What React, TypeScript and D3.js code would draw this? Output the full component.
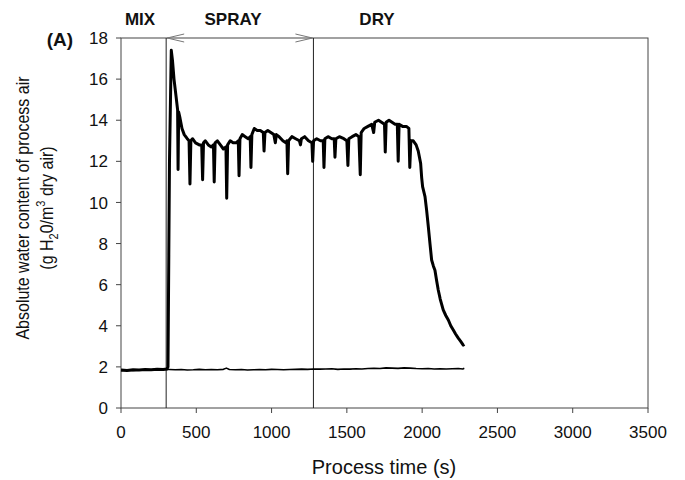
import React from "react";
import * as d3 from "d3";

const xTicks = [0, 500, 1000, 1500, 2000, 2500, 3000, 3500];
const yTicks = [0, 2, 4, 6, 8, 10, 12, 14, 16, 18];
const phaseLabels = ["MIX", "SPRAY", "DRY"];
const phaseLabelX = [140, 233, 377];
const phaseBoundaries = [300, 1278];

const lowerTime = [0,40,80,120,160,200,240,280,320,360,400,440,480,520,560,600,640,680,700,720,760,800,840,880,920,960,1000,1040,1080,1120,1160,1200,1240,1280,1320,1360,1400,1440,1480,1520,1560,1600,1640,1680,1720,1760,1800,1840,1880,1920,1960,2000,2040,2080,2120,2160,2200,2240,2270,2280];
const lowerValue = [1.82,1.84,1.83,1.85,1.84,1.86,1.85,1.87,1.87,1.86,1.87,1.85,1.86,1.88,1.86,1.87,1.86,1.88,1.94,1.87,1.86,1.87,1.85,1.86,1.87,1.86,1.88,1.87,1.86,1.87,1.88,1.89,1.88,1.9,1.89,1.9,1.91,1.88,1.9,1.89,1.91,1.9,1.92,1.93,1.92,1.95,1.94,1.93,1.95,1.94,1.92,1.91,1.92,1.9,1.91,1.9,1.91,1.92,1.9,1.93];

const upperSeries: [number, number][] = [
  [0,1.85],[40,1.83],[80,1.86],[120,1.85],[160,1.87],[200,1.86],[240,1.88],[280,1.87],[305,1.9],[312,2.0],[322,12.0],[334,17.4],[342,16.9],[352,16.0],[365,15.2],[376,14.5],[379,11.6],[383,14.4],[392,14.1],[405,13.6],[420,13.3],[440,13.1],[452,13.0],[458,10.9],[464,13.0],[475,13.1],[495,12.9],[520,12.8],[536,12.8],[542,11.1],[548,12.9],[560,13.0],[580,12.8],[600,12.7],[614,12.8],[619,11.0],[625,12.9],[640,13.0],[660,12.8],[680,12.6],[697,12.7],[702,10.2],[708,12.8],[725,13.0],[745,12.9],[765,12.9],[779,13.0],[784,11.3],[790,13.1],[805,13.3],[825,13.2],[845,13.1],[858,13.2],[863,11.7],[869,13.3],[885,13.6],[905,13.5],[925,13.5],[945,13.4],[950,12.5],[956,13.4],[975,13.5],[995,13.4],[1015,13.3],[1025,12.9],[1032,13.3],[1050,13.2],[1075,13.0],[1095,12.9],[1102,13.0],[1107,11.4],[1113,13.0],[1135,13.2],[1160,13.1],[1185,13.0],[1192,12.8],[1198,13.1],[1220,13.2],[1245,13.0],[1268,12.9],[1273,12.0],[1279,13.0],[1300,13.1],[1325,13.0],[1343,13.0],[1348,11.7],[1354,13.1],[1375,13.2],[1400,13.1],[1416,13.1],[1421,12.2],[1427,13.1],[1450,13.2],[1480,13.1],[1500,13.0],[1507,11.8],[1513,13.1],[1535,13.2],[1560,13.3],[1580,13.2],[1589,11.35],[1595,13.4],[1615,13.6],[1640,13.7],[1665,13.8],[1678,13.4],[1685,13.9],[1710,14.0],[1730,13.9],[1750,13.8],[1755,12.45],[1761,13.9],[1780,14.0],[1800,13.9],[1820,13.8],[1835,13.8],[1841,12.0],[1847,13.8],[1870,13.7],[1895,13.7],[1912,13.6],[1918,11.7],[1925,13.0],[1941,13.0],[1960,12.8],[1974,12.5],[1990,11.9],[1997,11.2],[2003,10.77],[2019,10.28],[2030,9.6],[2041,8.82],[2052,8.0],[2063,7.2],[2075,6.9],[2085,6.7],[2096,6.2],[2107,5.74],[2120,5.3],[2140,4.77],[2157,4.5],[2174,4.28],[2190,4.0],[2207,3.79],[2222,3.6],[2240,3.4],[2255,3.25],[2273,3.06],[2280,3.1]
];

const W = 685, H = 480;
const M = { left: 121, right: 648, top: 38, bottom: 408 };
const FONT = "'Liberation Sans', Arial, sans-serif";
const AXIS = "#444";

export default function App() {
  const x = d3.scaleLinear().domain([0, 3500]).range([M.left, M.right]);
  const y = d3.scaleLinear().domain([0, 18]).range([M.bottom, M.top]);
  const line = d3.line<[number, number]>().x((d) => x(d[0])).y((d) => y(d[1]));
  const lowerData: [number, number][] = lowerTime.map((t, i) => [t, lowerValue[i]]);

  const xa = x(phaseBoundaries[0]);
  const xb = x(phaseBoundaries[1]);

  return (
    <svg width={W} height={H} style={{ position: "fixed", left: 0, top: 0, background: "#fff" }} fontFamily={FONT}>
      <rect x={0} y={0} width={W} height={H} fill="#fff" />
      {/* frame */}
      <rect x={M.left} y={M.top} width={M.right - M.left} height={M.bottom - M.top} fill="none" stroke={AXIS} strokeWidth={1} />
      {/* y ticks */}
      {yTicks.map((t) => (
        <g key={"y" + t}>
          <line x1={M.left - 5} x2={M.left} y1={y(t)} y2={y(t)} stroke={AXIS} />
          <text x={M.left - 13} y={y(t)} dy="0.36em" textAnchor="end" fontSize={17} fill="#111">{t}</text>
        </g>
      ))}
      {xTicks.map((t) => (
        <g key={"x" + t}>
          <line x1={x(t)} x2={x(t)} y1={M.bottom} y2={M.bottom + 5} stroke={AXIS} />
          <text x={x(t)} y={M.bottom + 24} dy="0.36em" textAnchor="middle" fontSize={17} fill="#111">{t}</text>
        </g>
      ))}
      {/* phase boundaries */}
      {phaseBoundaries.map((b) => (
        <line key={"b" + b} x1={x(b)} x2={x(b)} y1={M.top} y2={M.bottom} stroke="#222" strokeWidth={1} />
      ))}
      {/* arrow heads */}
      <path d={`M${xa + 18},${M.top - 4} L${xa + 1},${M.top} L${xa + 18},${M.top + 4}`} fill="none" stroke="#777" strokeWidth={1} />
      <path d={`M${xb - 18},${M.top - 4} L${xb - 1},${M.top} L${xb - 18},${M.top + 4}`} fill="none" stroke="#777" strokeWidth={1} />
      {/* series */}
      <path d={line(lowerData) || ""} fill="none" stroke="#000" strokeWidth={1.6} strokeLinejoin="round" />
      <path d={line(upperSeries) || ""} fill="none" stroke="#000" strokeWidth={3} strokeLinejoin="round" />
      {/* phase labels */}
      {phaseLabels.map((l, i) => (
        <text key={l} x={phaseLabelX[i]} y={25} textAnchor="middle" fontSize={17} fontWeight="bold" fill="#111">{l}</text>
      ))}
      <text x={60} y={46} textAnchor="middle" fontSize={19} fontWeight="bold" fill="#111">(A)</text>
      {/* axis titles */}
      <text x={384} y={474} textAnchor="middle" fontSize={20} fill="#111">Process time (s)</text>
      <text transform="translate(29,208) rotate(-90) scale(1,1.15)" textAnchor="middle" fontSize={16} fill="#111">Absolute water content of process air</text>
      <text transform="translate(53,208) rotate(-90) scale(1,1.15)" textAnchor="middle" fontSize={16} fill="#111">
        (g H<tspan fontSize={11} dy={4}>2</tspan><tspan dy={-4}>0/m</tspan><tspan fontSize={11} dy={-7}>3</tspan><tspan dy={7}> dry air)</tspan>
      </text>
    </svg>
  );
}
